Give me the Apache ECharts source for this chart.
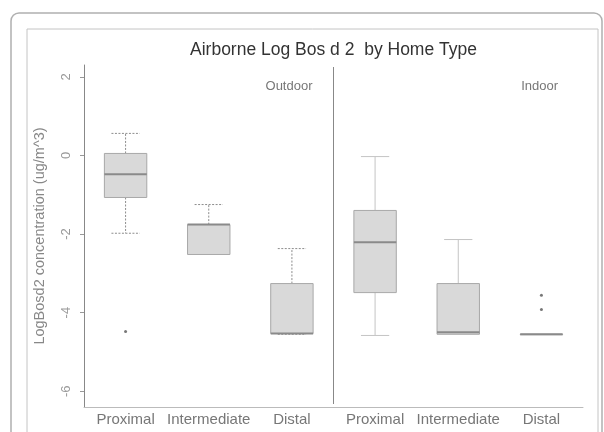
<!DOCTYPE html>
<html><head><meta charset="utf-8">
<script src="https://cdn.jsdelivr.net/npm/echarts@6/dist/echarts.min.js"></script>
<style>html,body{margin:0;padding:0;background:#fff}#c{width:604px;height:432px}</style>
</head><body><div id="c"></div><script>
const categories = ['Proximal','Intermediate','Distal','Proximal','Intermediate','Distal'];
const groups = ['Outdoor','Outdoor','Outdoor','Indoor','Indoor','Indoor'];
const lowWhisker = [-1.98,-2.52,-4.55,-4.58,-4.55,-4.55];
const q1 = [-1.07,-2.52,-4.53,-3.49,-4.55,-4.55];
const median = [-0.48,-1.76,-4.53,-2.21,-4.50,-4.55];
const q3 = [0.05,-1.76,-3.26,-1.40,-3.26,-4.55];
const highWhisker = [0.56,-1.25,-2.37,-0.03,-2.14,-4.55];
const outliers = [[0,-4.48],[5,-3.56],[5,-3.92]];
const yTicks = [-6,-4,-2,0,2];
const panelLabels = ['Outdoor','Indoor'];
const titleText = 'Airborne Log Bos d 2  by Home Type';

const boxData = categories.map((c,i)=>[i, lowWhisker[i], q1[i], median[i], q3[i], highWhisker[i]]);

function renderBox(params, api){
  const i = api.value(0);
  const band = api.size([1,0])[0];
  const half = band*0.255;
  const capHalf = band*0.17;
  const x = api.coord([i,0])[0];
  const yL = api.coord([i, api.value(1)])[1];
  const y1 = api.coord([i, api.value(2)])[1];
  const yM = api.coord([i, api.value(3)])[1];
  const y3 = api.coord([i, api.value(4)])[1];
  const yH = api.coord([i, api.value(5)])[1];
  const dashed = groups[i]==='Outdoor';
  const ws = {stroke: dashed?'#8c8c8c':'#c4c4c4', lineWidth:1, lineDash: dashed?[2,1.5]:null, fill:null};
  const ch = [];
  if (yH < y3-0.5){
    ch.push({type:'line', shape:{x1:x,y1:y3,x2:x,y2:yH}, style:ws});
    ch.push({type:'line', shape:{x1:x-capHalf,y1:yH,x2:x+capHalf,y2:yH}, style:ws});
  }
  if (yL > y1+0.5){
    ch.push({type:'line', shape:{x1:x,y1:y1,x2:x,y2:yL}, style:ws});
    ch.push({type:'line', shape:{x1:x-capHalf,y1:yL,x2:x+capHalf,y2:yL}, style:ws});
  }
  ch.push({type:'rect', shape:{x:x-half, y:y3, width:half*2, height:Math.max(y1-y3,0.5)},
    style:{fill:'#d9d9d9', stroke:'#a8a8a8', lineWidth:1}});
  ch.push({type:'line', shape:{x1:x-half,y1:yM,x2:x+half,y2:yM}, style:{stroke:'#8a8a8a', lineWidth:2}});
  return {type:'group', children:ch};
}

const chart = echarts.init(document.getElementById('c'), null, {renderer:'canvas'});
const option = {
  animation:false,
  backgroundColor:'#fff',
  grid:{left:84, right:21, top:65, bottom:25},
  xAxis:{type:'category', data:categories,
    axisLine:{onZero:false, lineStyle:{color:'#bbb'}}, axisTick:{show:false},
    axisLabel:{color:'#777', fontSize:15, fontFamily:'Liberation Sans', margin:5, interval:0}},
  yAxis:{type:'value', min:-6.4, max:2.3,
    name:'LogBosd2 concentration (ug/m^3)', nameLocation:'middle', nameGap:37, nameRotate:90,
    nameTextStyle:{color:'#888', fontSize:14.5, fontFamily:'Liberation Sans'},
    axisLine:{show:true, lineStyle:{color:'#888'}},
    axisTick:{show:true, length:4, customValues:yTicks, lineStyle:{color:'#999'}},
    axisLabel:{customValues:yTicks, rotate:90, color:'#999', fontSize:13, fontFamily:'Liberation Sans', margin:11},
    splitLine:{show:false}},
  series:[
    {type:'custom', renderItem:renderBox, data:boxData, encode:{x:0, y:[1,2,3,4,5]}, z:2},
    {type:'scatter', data:outliers, symbol:'circle', symbolSize:3, itemStyle:{color:'#555'}, z:3}
  ]
};
chart.setOption(option);

const band = chart.convertToPixel({xAxisIndex:0}, 1) - chart.convertToPixel({xAxisIndex:0}, 0);
const xDiv = (chart.convertToPixel({xAxisIndex:0}, 2) + chart.convertToPixel({xAxisIndex:0}, 3))/2;
const xRight = chart.convertToPixel({xAxisIndex:0}, 5) + band/2;
const xLeft = chart.convertToPixel({xAxisIndex:0}, 0) - band/2;
const yTop = chart.convertToPixel({yAxisIndex:0}, 2.3);
const yBot = chart.convertToPixel({yAxisIndex:0}, -6.4);
const yLab = chart.convertToPixel({yAxisIndex:0}, 1.75);
const lab = {fill:'#777', fontSize:13, fontFamily:'Liberation Sans', textAlign:'right', textVerticalAlign:'middle'};
chart.setOption({graphic:[
  {type:'rect', shape:{x:11, y:13, width:591, height:440, r:8}, style:{fill:null, stroke:'#b0b0b0', lineWidth:1.5}, silent:true},
  {type:'rect', shape:{x:27, y:29, width:571, height:430}, style:{fill:null, stroke:'#c4c4c4', lineWidth:1}, silent:true},
  {type:'line', shape:{x1:xDiv, y1:yTop+2, x2:xDiv, y2:yBot-3}, style:{stroke:'#888', lineWidth:1}, silent:true},
  {type:'text', x:(xLeft+xRight)/2, y:50, style:{text:titleText, fill:'#333', fontSize:17.5, fontWeight:'normal', fontFamily:'Liberation Sans', textAlign:'center', textVerticalAlign:'middle'}, silent:true},
  {type:'text', x:xDiv-21, y:yLab, style:Object.assign({text:panelLabels[0]}, lab), silent:true},
  {type:'text', x:xRight-25, y:yLab, style:Object.assign({text:panelLabels[1]}, lab), silent:true}
]});
</script></body></html>
